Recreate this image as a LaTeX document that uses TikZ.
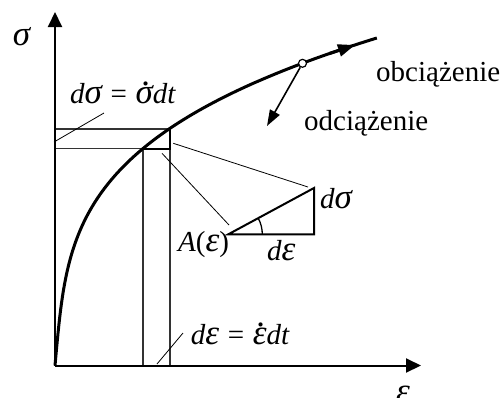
\documentclass[tikz,border=0pt]{standalone}
\usepackage{fontspec}
\setmainfont{Liberation Serif}
\usetikzlibrary{arrows.meta}
\newcommand\gk[1]{{\fontsize{35}{35}\selectfont #1}}
\newcommand\dotacc[2][0.2em]{\makebox[0pt][l]{\hspace{#1}\raisebox{0.5em}{.}}#2}
\begin{document}
\begin{tikzpicture}[x=1pt,y=-1pt,
  lbl/.style={inner sep=0pt, font=\fontsize{29}{32}\selectfont},
  mlbl/.style={inner sep=0pt, font=\fontsize{29}{32}\selectfont\itshape},
  axis/.style={line width=2pt, -{Triangle[length=15pt,width=14pt]}},
  thinline/.style={line width=0.8pt},
  gridline/.style={line width=1.1pt, black!80},
  curveline/.style={line width=3pt},
  triline/.style={line width=2pt, line join=miter}]
\useasboundingbox (0,0) rectangle (502,397);
% key points
\coordinate (O) at (55,365.5);
\coordinate (Ytip) at (55,12);
\coordinate (Xtip) at (421,365.5);
\coordinate (Q1) at (143,148.5);
\coordinate (Q2) at (170,129);
\coordinate (Q3) at (170,148.5);
\coordinate (L1) at (55,129);
\coordinate (L2) at (55,148.5);
\coordinate (B1) at (143,365.5);
\coordinate (B2) at (170,365.5);
\coordinate (TA) at (228.3,234.3);
\coordinate (TB) at (314,234.3);
\coordinate (TC) at (314,188);
% grid lines
\draw[gridline] (L1) -- (Q2);
\draw[gridline] (L2) -- (Q1);
\draw[gridline] (Q1) -- (B1);
\draw[gridline] (Q3) -- (B2);
% curve
\draw[curveline, line join=round] plot[domain=0.01:327.5, samples=160, variable=\t] ({55 + \t/11 + 15.1*(\t/141.5)^3.53}, {365.5-\t});
\draw[curveline, -{Triangle[length=17pt,width=12pt]}] (329.6,53.5) -- (355,45);
% small thick triangle
\draw[triline] (Q1) -- (Q3) -- (Q2);
% axes
\draw[axis] (O) -- (Ytip);
\draw[axis] (O) -- (Xtip);
% unloading arrow and point
\coordinate (U) at (267,126);
\node[circle, draw, fill=white, line width=1.2pt, minimum size=8pt, inner sep=0pt] (P) at (302.5,63.3) {};
\draw[line width=1.6pt, -{Triangle[length=16pt,width=11pt]}] (P) -- (U);
% big triangle
\draw[triline] (TA) -- (TB) -- (TC) -- cycle;
\draw[line width=1.3pt] (262.3,234.3) arc[start angle=0, end angle=-28.4, radius=34];
% leaders
\coordinate (S1) at (173.3,143.3);
\coordinate (S2) at (162,153.3);
\coordinate (S3) at (229,225);
\coordinate (S4) at (308,187);
\draw[thinline] (S1) -- (S4);
\draw[thinline] (S2) -- (S3);
\coordinate (D1) at (104,113);
\coordinate (D2) at (54,142);
\draw[thinline] (D1) -- (D2);
\coordinate (E1) at (183,333);
\coordinate (E2) at (157,364);
\draw[thinline] (E1) -- (E2);
% labels
\node[mlbl, anchor=base west] (sig) at (12.7,45) {\gk{σ}};
\node[mlbl, anchor=base west] (eps) at (396,402) {\gk{ε}};
\node[mlbl, anchor=base west] (dsig) at (70,103) {d\gk{σ}\hspace{0.3em}{\upshape =}\hspace{0.3em}\gk{\dotacc[0.18em]{σ}}dt};
\node[mlbl, anchor=base west] (deps) at (190.7,344) {d\gk{ε}\hspace{0.3em}{\upshape =}\hspace{0.3em}\gk{\dotacc[0.12em]{ε}}dt};
\node[mlbl, anchor=base west] (Aeps) at (178,251.7) {A{\upshape(}\gk{ε}{\upshape)}};
\node[mlbl, anchor=base west] (de) at (267,260.7) {d\gk{ε}};
\node[mlbl, anchor=base west] (ds) at (320,208) {d\gk{σ}};
\node[lbl, anchor=base west] (obc) at (376,81.5) {obciążenie};
\node[lbl, anchor=base west] (odc) at (304,130) {odciążenie};
\end{tikzpicture}
\end{document}
